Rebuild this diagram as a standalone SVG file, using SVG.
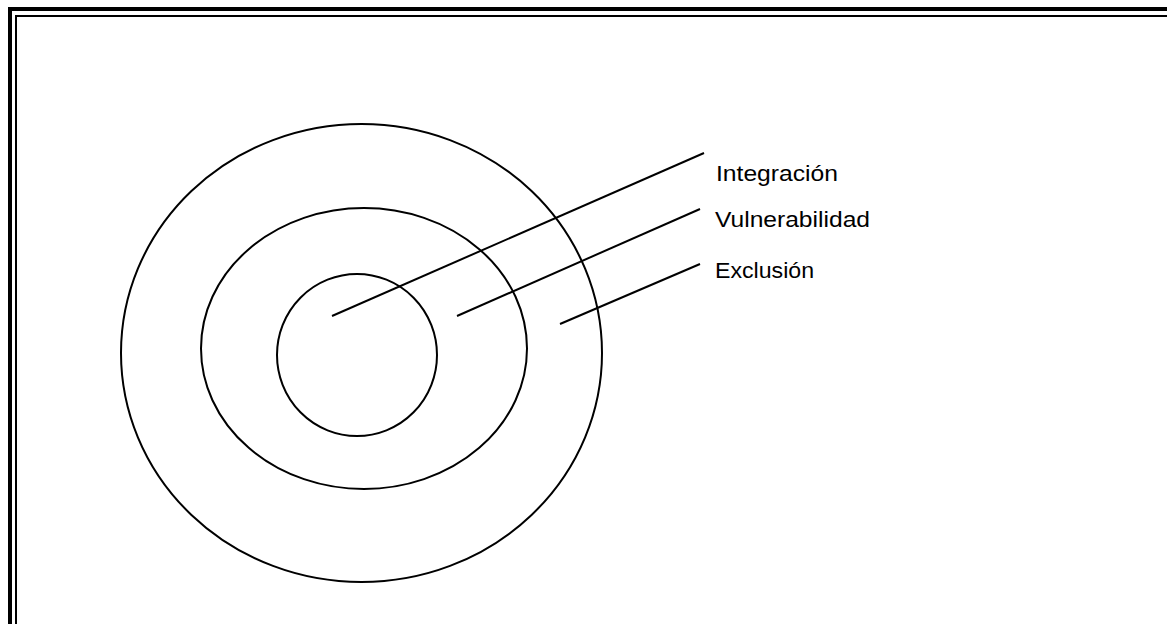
<svg xmlns="http://www.w3.org/2000/svg" width="1167" height="624" viewBox="0 0 1167 624">
<style>
.ring{fill:none;stroke:#000;stroke-width:2}
.lead{stroke:#000;stroke-width:2}
.lbl{font-family:"Liberation Sans",Arial,sans-serif;font-size:22px;fill:#000}
</style>
<rect width="1167" height="624" fill="#fff"/>
<g id="frame">
<rect x="10" y="9" width="1200" height="700" fill="none" stroke="#000" stroke-width="4"/>
<rect x="16" y="16" width="1190" height="690" fill="none" stroke="#000" stroke-width="2"/>
</g>
<g id="exclusion"><ellipse class="ring" cx="361.5" cy="353" rx="240.5" ry="229"/></g>
<g id="vulnerabilidad"><ellipse class="ring" cx="364" cy="348.5" rx="163" ry="140.5"/></g>
<g id="integracion"><ellipse class="ring" cx="357" cy="355" rx="80" ry="81"/></g>
<g id="connectors">
<line class="lead" x1="332" y1="316" x2="704" y2="153"/>
<line class="lead" x1="457" y1="316" x2="700" y2="209"/>
<line class="lead" x1="560" y1="324" x2="700" y2="264"/>
</g>
<g id="labels">
<text class="lbl" x="716" y="181" textLength="122" lengthAdjust="spacingAndGlyphs">Integración</text>
<text class="lbl" x="715" y="227" textLength="155" lengthAdjust="spacingAndGlyphs">Vulnerabilidad</text>
<text class="lbl" x="715" y="278" textLength="99" lengthAdjust="spacingAndGlyphs">Exclusión</text>
</g>
</svg>
